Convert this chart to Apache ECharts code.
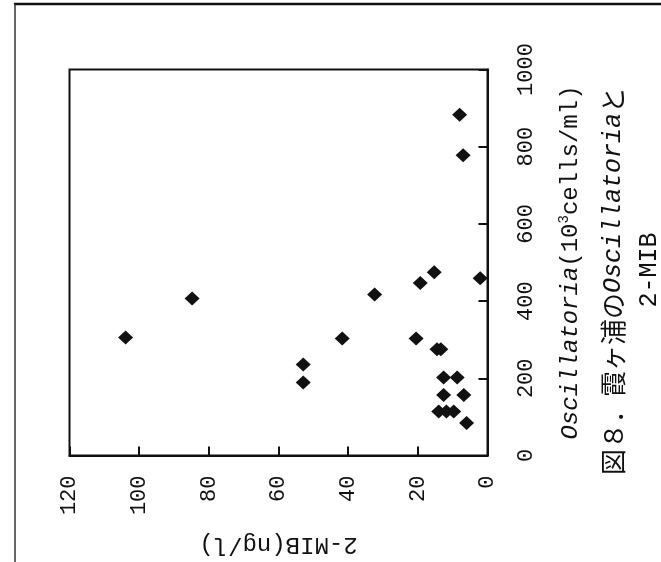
<!DOCTYPE html>
<html>
<head>
<meta charset="utf-8">
<script src="https://cdn.jsdelivr.net/npm/echarts@6/dist/echarts.min.js"></script>
<style>
  html, body { margin: 0; padding: 0; background: #fff; }
  #chart { width: 661px; height: 562px; }
</style>
</head>
<body>
<div id="chart"></div>
<script>
// 2-MIB concentration (ng/l) for each sample
const mib = [8.0, 7.0, 15.3, 2.1, 19.3, 32.4, 84.8, 103.9, 41.7, 20.5, 14.5, 13.4,
             52.9, 52.9, 12.6, 8.7, 12.6, 6.8, 14.0, 11.8, 9.7, 6.0];
// Oscillatoria density (10^3 cells/ml) for the same samples
const osc = [883, 778, 475, 459, 447, 417, 407, 306, 303, 303, 275, 275,
             236, 189, 202, 202, 157, 157, 114, 114, 114, 84];

// Axis ranges and tick steps
const mibTicks = [0, 20, 40, 60, 80, 100, 120];
const oscTicks = [0, 200, 400, 600, 800, 1000];

const captionMain = ['図８．霞ヶ浦の', 'Oscillatoria', 'と'];
const captionSub = '2-MIB';
const mibName = '2-MIB(ng/l)';
const oscName = ['Oscillatoria', '(10', '3', 'cells/ml)'];

const points = mib.map((m, i) => [m, osc[i]]);

const MONO = '"Liberation Mono", "DejaVu Sans Mono", monospace';
const CJK = '"Noto Sans CJK JP", sans-serif';
const INK = '#111';

const chart = echarts.init(document.getElementById('chart'), null, { renderer: 'canvas' });

const tickStyle = { show: true, inside: true, length: 9, lineStyle: { color: INK, width: 2 } };

chart.setOption({
  backgroundColor: '#fff',
  animation: false,
  grid: {
    left: 69.5, top: 69.5, width: 418, height: 386,
    show: true, borderColor: INK, borderWidth: 2, backgroundColor: 'transparent'
  },
  // The figure is printed turned a quarter turn: 2-MIB runs along the bottom
  // (reversed), cell density runs up the right side.
  xAxis: {
    type: 'value',
    position: 'bottom',
    inverse: true,
    min: mibTicks[0],
    max: mibTicks[mibTicks.length - 1],
    interval: mibTicks[1] - mibTicks[0],
    axisLine: { show: true, lineStyle: { color: INK, width: 2 } },
    axisTick: tickStyle,
    splitLine: { show: false },
    axisLabel: {
      rotate: 90, margin: 20, color: INK,
      fontFamily: MONO, fontSize: 22,
      formatter: v => String(v)
    },
    name: mibName,
    nameLocation: 'middle',
    nameRotate: 180,
    nameGap: 77,
    nameTextStyle: { color: INK, fontFamily: MONO, fontSize: 24 }
  },
  yAxis: {
    type: 'value',
    position: 'right',
    min: oscTicks[0],
    max: oscTicks[oscTicks.length - 1],
    interval: oscTicks[1] - oscTicks[0],
    axisLine: { show: true, lineStyle: { color: INK, width: 2 } },
    axisTick: tickStyle,
    splitLine: { show: false },
    axisLabel: {
      rotate: 90, margin: 28, color: INK,
      fontFamily: MONO, fontSize: 22,
      formatter: v => String(v)
    },
    name: '{i|' + oscName[0] + '}{n|' + oscName[1] + '}{s|' + oscName[2] + '}{n|' + oscName[3] + '}',
    nameLocation: 'middle',
    nameRotate: 90,
    nameGap: 70,
    nameTextStyle: {
      color: INK,
      rich: {
        i: { fontFamily: MONO, fontStyle: 'italic', fontSize: 24, color: INK, lineHeight: 26 },
        n: { fontFamily: MONO, fontSize: 24, color: INK, lineHeight: 26 },
        s: { fontFamily: MONO, fontSize: 14, color: INK, verticalAlign: 'top', lineHeight: 26 }
      }
    }
  },
  series: [{
    type: 'scatter',
    data: points,
    symbol: 'diamond',
    symbolSize: [15, 14],
    itemStyle: { color: INK, opacity: 1 },
    z: 3
  }],
  graphic: [
    // page frame lines
    { type: 'line', shape: { x1: 14, y1: 4, x2: 661, y2: 4 },
      style: { stroke: INK, lineWidth: 2.5 }, silent: true },
    { type: 'line', shape: { x1: 15, y1: 4, x2: 15, y2: 562 },
      style: { stroke: '#333', lineWidth: 1.5 }, silent: true },
    // figure caption, turned with the chart
    {
      type: 'text', x: 613, y: 281, rotation: Math.PI / 2, silent: true,
      style: {
        text: '{c|' + captionMain[0] + '}{i|' + captionMain[1] + '}{c|' + captionMain[2] + '}',
        align: 'center', verticalAlign: 'middle',
        rich: {
          c: { fontFamily: CJK, fontSize: 26, fill: INK },
          i: { fontFamily: MONO, fontStyle: 'italic', fontSize: 25, fill: INK }
        }
      }
    },
    {
      type: 'text', x: 649, y: 270, rotation: Math.PI / 2, silent: true,
      style: {
        text: captionSub, align: 'center', verticalAlign: 'middle',
        fontFamily: MONO, fontSize: 25, fill: INK
      }
    }
  ]
});
</script>
</body>
</html>
